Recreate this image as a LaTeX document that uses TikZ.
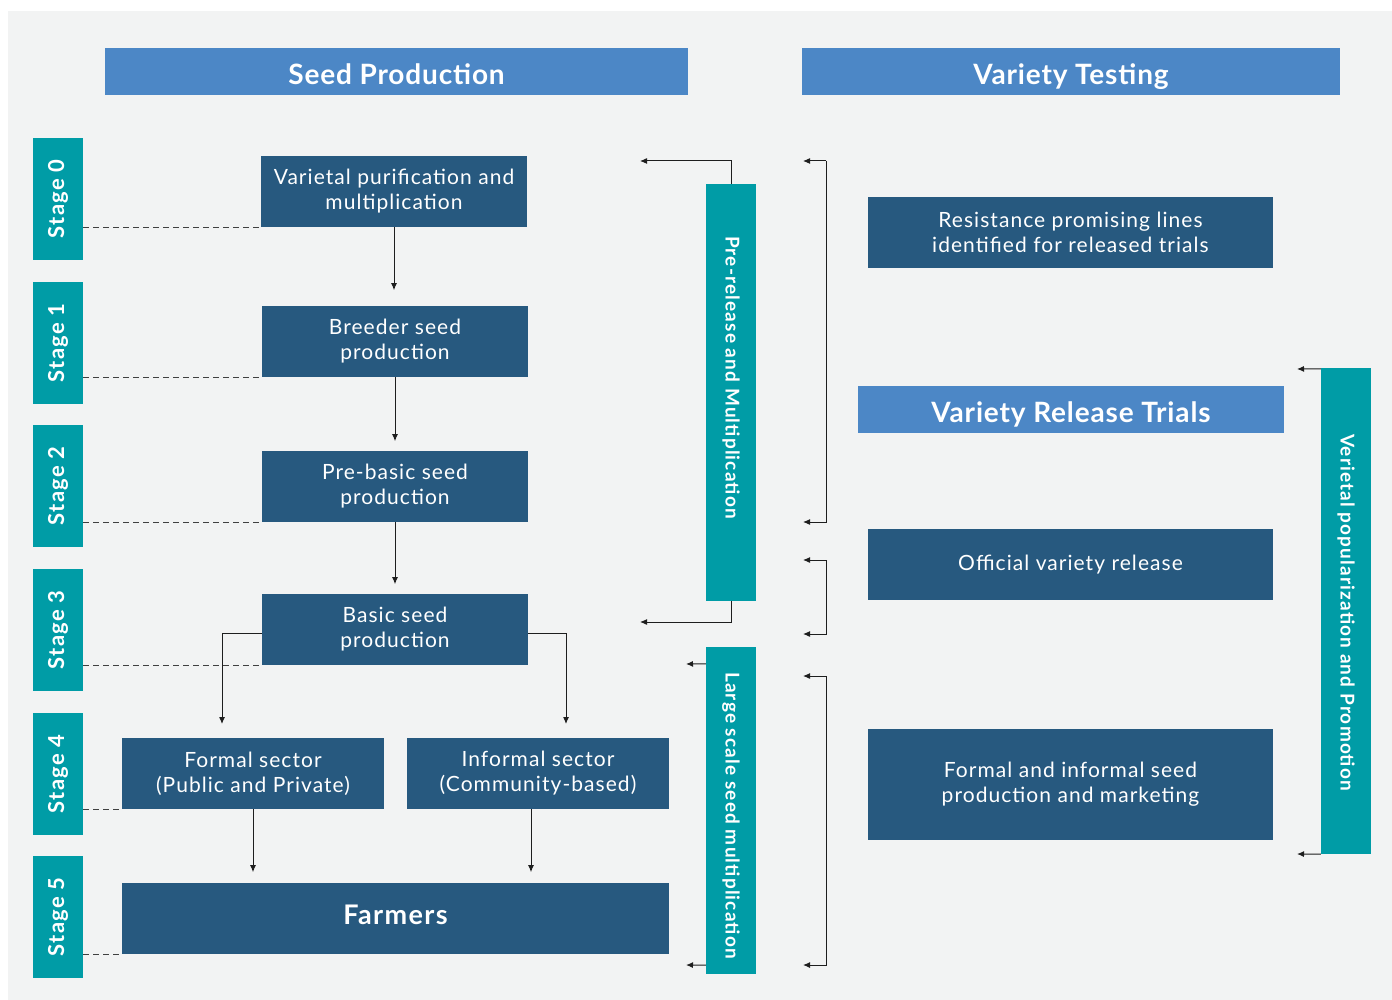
\documentclass[tikz,border=0pt]{standalone}
\usepackage{fontspec}
\setmainfont{Lato}
\usetikzlibrary{arrows.meta,calc}
\definecolor{bgc}{HTML}{F2F3F3}
\definecolor{hdrc}{HTML}{4C87C6}
\definecolor{boxc}{HTML}{27597F}
\definecolor{tealc}{HTML}{009CA6}
\definecolor{linec}{HTML}{1E1E1E}
\begin{document}
\begin{tikzpicture}[x=1pt,y=-1pt,
  hdr/.style={fill=hdrc,text=white,inner sep=0pt,minimum height=47pt,text height=26pt,text depth=0pt,font=\fontsize{28}{32}\selectfont\bfseries\addfontfeatures{LetterSpace=3}},
  dbox/.style={fill=boxc,text=white,inner sep=0pt,minimum height=71pt,align=center,font=\fontsize{21}{25}\selectfont\addfontfeatures{LetterSpace=5}},
  stagebox/.style={fill=tealc,text=white,inner sep=0pt,rotate=90,minimum width=122pt,minimum height=50pt,font=\fontsize{22}{24}\selectfont\bfseries\addfontfeatures{LetterSpace=6}},
  vbar/.style={fill=tealc,text=white,inner sep=0pt,rotate=-90,minimum height=50pt,font=\fontsize{19}{20}\selectfont\bfseries\addfontfeatures{LetterSpace=6}},
  arr/.style={draw=linec,line width=1pt,-{Latex[length=7pt,width=6pt]}},
  dashln/.style={draw=linec!85,line width=0.9pt,dash pattern=on 6pt off 4pt}]
\useasboundingbox (0,0) rectangle (1392,1000);
\fill[bgc] (8,11) rectangle (1392,1000);

% headers
\node[hdr,minimum width=583pt] (hsp) at (396.5,71.5) {Seed Production};
\node[hdr,minimum width=538pt] (hvt) at (1071,71.5) {Variety Testing};
\node[hdr,minimum width=426pt] (hvr) at (1071,409.5) {Variety Release Trials};

% stages
\node[stagebox] (s0) at (58,199) {Stage 0};
\node[stagebox] (s1) at (58,343) {Stage 1};
\node[stagebox] (s2) at (58,486) {Stage 2};
\node[stagebox] (s3) at (58,630) {Stage 3};
\node[stagebox] (s4) at (58,774) {Stage 4};
\node[stagebox] (s5) at (58,917) {Stage 5};

% seed production boxes
\node[dbox,minimum width=266pt] (vp) at (394,191.5) {Varietal purification and\\multiplication};
\node[dbox,minimum width=266pt] (bs) at (395,341.5) {Breeder seed\\production};
\node[dbox,minimum width=266pt] (pb) at (395,486.5) {Pre-basic seed\\production};
\node[dbox,minimum width=266pt] (ba) at (395,629.5) {Basic seed\\production};
\node[dbox,minimum width=262pt] (fs) at (253,773.5) {Formal sector\\(Public and Private)};
\node[dbox,minimum width=262pt] (is) at (538,773.5) {Informal sector\\(Community-based)};
\node[dbox,minimum width=547pt,text height=11.4pt,text depth=0pt,font=\fontsize{27}{30}\selectfont\bfseries\addfontfeatures{LetterSpace=5}] (fa) at (395.5,918.5) {Farmers};

% right boxes
\node[dbox,minimum width=405pt] (rp) at (1070.5,232.5) {Resistance promising lines\\identified for released trials};
\node[dbox,minimum width=405pt] (ov) at (1070.5,564.5) {Official variety release};
\node[dbox,minimum width=405pt,minimum height=111pt] (fi) at (1070.5,784.5) {Formal and informal seed\\production and marketing};

% vertical bars
\node[vbar,minimum width=417pt] (pr) at (731,392.5) {Pre-release and Multiplication\hspace*{30pt}};
\node[vbar,minimum width=327pt] (ls) at (731,810.5) {\hspace*{10pt}Large scale seed multiplication};
\node[vbar,minimum width=486pt] (vpp) at (1346,611) {\hspace*{3pt}Verietal popularization and Promotion};

% dashed stage lines
\draw[dashln] (s0.south |- vp.south west) -- (vp.south west);
\draw[dashln] (s1.south |- bs.south west) -- (bs.south west);
\draw[dashln] (s2.south |- pb.south west) -- (pb.south west);
\draw[dashln] (s3.south |- ba.south west) -- (ba.south west);
\draw[dashln] (s4.south |- fs.south west) -- (fs.south west);
\draw[dashln] (s5.south |- fa.south west) -- (fa.south west);

% flow arrows
\draw[arr] (vp.south) -- ($(vp.south)+(0,63)$);
\draw[arr] (bs.south) -- ($(bs.south)+(0,64)$);
\draw[arr] (pb.south) -- ($(pb.south)+(0,62)$);
\coordinate (bl) at ($(ba.west)+(0,3.5)$);
\coordinate (br) at ($(ba.east)+(0,3.5)$);
\draw[arr] (bl) -| (222,724);
\draw[arr] (br) -| (566,724);
\draw[arr] (fs.south) -- ($(fs.south)+(0,63)$);
\draw[arr] ($(is.south)+(-7,0)$) -- ($(is.south)+(-7,63)$);

% pre-release connectors
\coordinate (prt) at (640,161);
\coordinate (prb) at (640,622);
\draw[arr] (pr.west) |- (prt);
\draw[arr] (pr.east) |- (prb);
% large scale connectors
\coordinate (lst) at (686,664);
\coordinate (lsb) at (686,965);
\draw[arr] ($(ls.south west)+(0,17)$) -- (lst);
\draw[arr] ($(ls.south east)+(0,-9)$) -- (lsb);

% brackets
\coordinate (b1t) at (826,161);
\coordinate (b1b) at (826,522);
\coordinate (b2t) at (826,560);
\coordinate (b2b) at (826,634);
\coordinate (b3t) at (826,676);
\coordinate (b3b) at (826,965);
\coordinate (a1t) at (803,161);
\coordinate (a1b) at (803,522);
\coordinate (a2t) at (803,560);
\coordinate (a2b) at (803,634);
\coordinate (a3t) at (803,676);
\coordinate (a3b) at (803,965);
\draw[arr] (b1t) -- (a1t);
\draw[arr] (b1t) -- (b1b) -- (a1b);
\draw[arr] (b2t) -- (a2t);
\draw[arr] (b2t) -- (b2b) -- (a2b);
\draw[arr] (b3t) -- (a3t);
\draw[arr] (b3t) -- (b3b) -- (a3b);

% popularization connectors
\coordinate (vpt) at (1297,369);
\coordinate (vpb) at (1297,854);
\draw[arr] ($(vpp.south west)+(0,1)$) -- (vpt);
\draw[arr] (vpp.south east) -- (vpb);
\end{tikzpicture}
\end{document}
